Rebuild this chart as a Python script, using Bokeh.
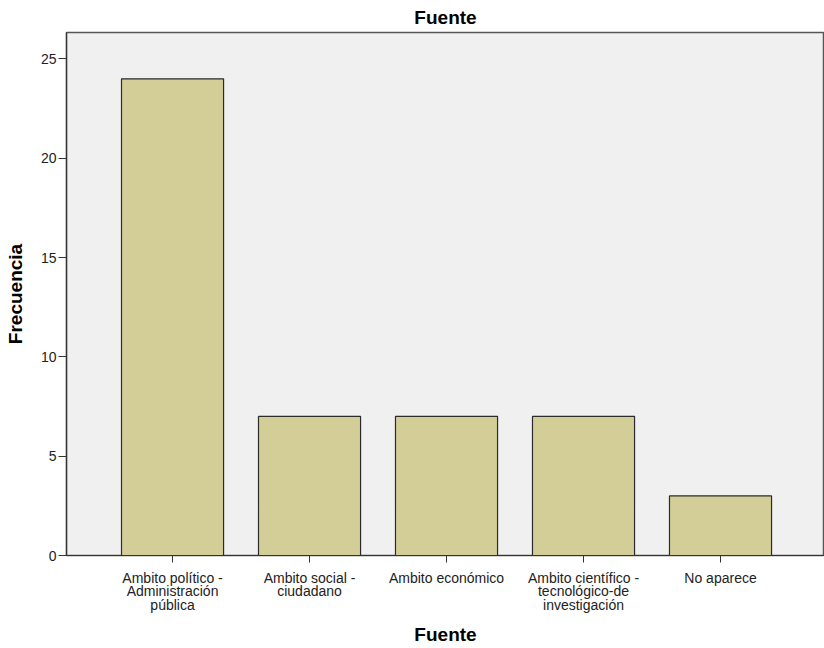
from bokeh.plotting import figure
from bokeh.models import FixedTicker, Range1d, ColumnDataSource
from bokeh.embed import file_html
from bokeh.resources import INLINE

categories = [
    "Ambito político -\nAdministración\npública",
    "Ambito social -\nciudadano",
    "Ambito económico",
    "Ambito científico -\ntecnológico-de\ninvestigación",
    "No aparece",
]
frecuencia = [24, 7, 7, 7, 3]
y_ticks = [0, 5, 10, 15, 20, 25]

positions = list(range(len(categories)))
src = ColumnDataSource(dict(x=positions, top=frecuencia))

FONT = "Liberation Sans"

p = figure(width=824, height=648, output_backend="svg", toolbar_location=None,
           x_range=Range1d(-0.774, 4.759), y_range=Range1d(0, 26.33),
           min_border_left=66, min_border_right=0, min_border_top=32,
           min_border_bottom=93, title="Fuente")

p.vbar(x="x", top="top", width=0.745, bottom=0, source=src,
       fill_color="#D3CE97", line_color="#2b2b2b", line_width=1.2)

p.background_fill_color = "#F0F0F0"
p.border_fill_color = "white"
p.outline_line_color = "#555555"
p.outline_line_width = 1.5
p.xgrid.visible = False
p.ygrid.visible = False

p.title.align = "center"
p.title.text_font = FONT
p.title.text_font_size = "19px"
p.title.text_font_style = "bold"
p.title.text_color = "black"
p.title.standoff = 9

p.xaxis.ticker = FixedTicker(ticks=positions)
p.xaxis.major_label_overrides = {i: c for i, c in enumerate(categories)}
p.xaxis.axis_label = "Fuente"
p.yaxis.ticker = FixedTicker(ticks=y_ticks)
p.yaxis.axis_label = "Frecuencia"

for ax in (p.xaxis[0], p.yaxis[0]):
    ax.axis_line_color = "#333333"
    ax.axis_line_width = 1.2
    ax.major_tick_line_color = "#333333"
    ax.major_tick_in = 0
    ax.minor_tick_line_color = None
    ax.major_label_text_font = FONT
    ax.major_label_text_font_size = "14px"
    ax.major_label_text_color = "#222222"
    ax.major_label_text_line_height = 0.85
    ax.axis_label_text_font = FONT
    ax.axis_label_text_font_size = "19px"
    ax.axis_label_text_font_style = "bold"
    ax.axis_label_text_color = "black"

p.xaxis.major_tick_out = 7
p.xaxis.major_label_standoff = 7
p.xaxis.axis_label_standoff = 8
p.yaxis.major_tick_out = 8
p.yaxis.major_label_standoff = 2
p.yaxis.axis_label_standoff = 12

open("out.html", "w").write(file_html(p, INLINE))
